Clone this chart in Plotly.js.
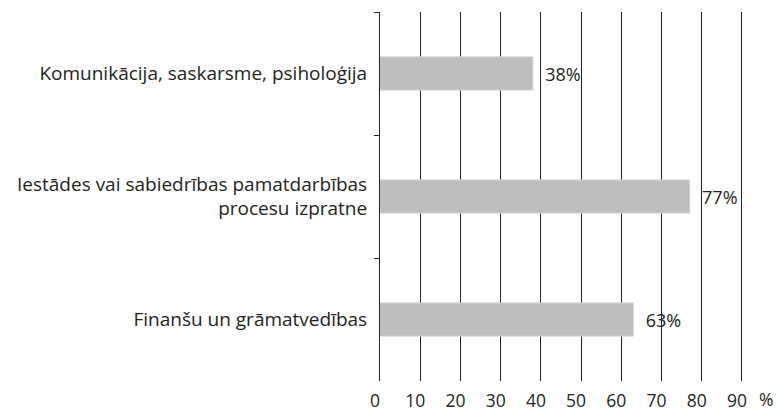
<!DOCTYPE html>
<html>
<head>
<meta charset="utf-8">
<script src="https://cdn.plot.ly/plotly-3.0.1.min.js"></script>
<style>html,body{margin:0;padding:0;background:#fff;}#chart{width:777px;height:411px;}</style>
</head>
<body>
<div id="chart"></div>
<script>
const categories = [
  "Komunikācija, saskarsme, psiholoģija",
  "Iestādes vai sabiedrības pamatdarbības<br>procesu izpratne",
  "Finanšu un grāmatvedības"
];
const values = [38, 77, 63];
const labels = ["38%", "77%", "63%"];
const tickVals = [0, 10, 20, 30, 40, 50, 60, 70, 80, 90];
const tickText = ["0", "10", "20", "30", "40", "50", "60", "70", "80", "90"];

const ink = "#231f20";
const fontFam = "'Open Sans', 'Noto Sans', sans-serif";

const trace = {
  type: "bar",
  orientation: "h",
  x: values,
  y: categories,
  text: labels.map(t => "\u00a0\u00a0" + t),
  textposition: "outside",
  constraintext: "none",
  cliponaxis: false,
  textfont: {family: fontFam, size: 18, color: ink},
  marker: {color: "#bcbec0", line: {color: "#d1d3d4", width: 1}},
  hoverinfo: "none"
};

const layout = {
  width: 777,
  height: 411,
  margin: {l: 380, r: 33, t: 12, b: 30},
  paper_bgcolor: "#ffffff",
  plot_bgcolor: "#ffffff",
  showlegend: false,
  bargap: 0.73,
  font: {family: fontFam, size: 18, color: ink},
  xaxis: {
    range: [0, 90.5],
    tickmode: "array",
    tickvals: tickVals,
    ticktext: tickText,
    showgrid: true,
    gridcolor: ink,
    gridwidth: 1,
    zeroline: false,
    showline: false,
    ticks: "",
    ticklabelshift: -5,
    ticklabelstandoff: 7,
    tickfont: {family: fontFam, size: 17.5, color: ink},
    fixedrange: true
  },
  yaxis: {
    type: "category",
    range: [2.5, -0.5],
    showline: true,
    linecolor: ink,
    linewidth: 1,
    ticks: "outside",
    tickson: "boundaries",
    ticklen: 5,
    tickcolor: ink,
    tickwidth: 1,
    showgrid: false,
    ticklabelstandoff: 8,
    tickfont: {family: fontFam, size: 19, color: ink},
    fixedrange: true
  },
  annotations: [{
    xref: "paper", yref: "paper",
    x: 1, y: 0,
    xanchor: "center", yanchor: "middle",
    xshift: 22, yshift: -18,
    text: "%",
    showarrow: false,
    font: {family: fontFam, size: 17.5, color: ink}
  }]
};

Plotly.newPlot("chart", [trace], layout, {displayModeBar: false, staticPlot: true});
</script>
</body>
</html>
